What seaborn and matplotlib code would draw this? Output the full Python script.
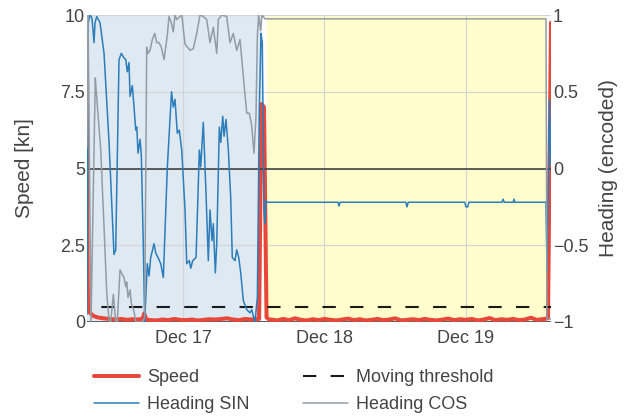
import numpy as np
import pandas as pd
import matplotlib
matplotlib.use("Agg")
import matplotlib.pyplot as plt
import matplotlib.dates as mdates
from matplotlib.lines import Line2D
import seaborn as sns

# ---------------- data (hours since 2023-12-16 00:00) ----------------
BASE = "2023-12-16"

speed_hours = [7.71, 7.76, 7.88, 8.2, 8.8, 9.5, 10.5, 11.5, 12.5, 13.5, 14.5, 15.5, 16.5,
               17.2, 17.4, 17.8, 18.5, 19.5, 20.5, 21.5, 22.5, 23.5, 24.5, 25.5, 26.5,
               27.5, 28.5, 29.5, 30.5, 31.5, 32.5, 33.5, 34.5, 35.5, 36.3, 36.89,
               37.32, 37.74, 38.17, 38.6,
               39, 40, 41, 42, 43, 44, 45, 46, 47, 48, 49, 50, 51, 52, 53, 54, 55, 56,
               57, 58, 59, 60, 61, 62, 63, 64, 65, 66, 67, 68, 69, 70, 71, 72, 73, 74,
               75, 76, 77, 78, 79, 80, 81, 82, 83, 84, 85, 85.92, 86.43]
speed_kn = [8.6, 3.2, 0.45, 0.3, 0.2, 0.15, 0.12, 0.1, 0.08, 0.1, 0.07, 0.09, 0.08,
            0.12, 0.28, 0.08, 0.06, 0.05, 0.08, 0.06, 0.1, 0.07, 0.06, 0.08, 0.05,
            0.07, 0.09, 0.08, 0.1, 0.12, 0.08, 0.06, 0.1, 0.08, 0.1, 0.1,
            7.1, 7.0, 0.15, 0.08,
            0.08, 0.05, 0.1, 0.06, 0.12, 0.07, 0.05, 0.09, 0.06, 0.1, 0.07, 0.05, 0.08,
            0.11, 0.06, 0.09, 0.05, 0.07, 0.1, 0.06, 0.08, 0.12, 0.05, 0.07, 0.09,
            0.06, 0.1, 0.07, 0.05, 0.08, 0.11, 0.06, 0.09, 0.07, 0.1, 0.05, 0.08,
            0.13, 0.06, 0.09, 0.07, 0.1, 0.06, 0.08, 0.14, 0.07, 0.09, 0.12, 9.75]

sin_hours = [7.71, 7.93, 8.22, 8.56, 8.90, 9.07, 9.36, 9.92, 10.60, 11.45, 12.29, 12.58,
             13.14, 13.53, 13.99, 14.28, 14.55, 14.84, 15.01, 15.40, 15.69, 15.98, 16.15,
             16.37, 16.71, 16.93, 17.26, 17.50, 17.94, 18.23, 18.52, 19.08, 19.37, 19.76,
             20.22, 20.66, 21.34, 22.05, 22.35, 22.64, 23.03, 23.37, 23.78, 24.34, 24.63,
             25.07, 25.31, 25.65, 26.21, 26.77, 27.00, 27.44, 27.90, 28.29, 28.58, 28.92,
             29.14, 29.48, 29.72, 30.16, 30.40, 30.74, 30.96, 31.29, 31.69, 32.09, 32.36,
             32.82, 33.11, 33.45, 33.79, 34.23, 34.81, 35.37, 35.65, 36.21, 36.61, 36.94,
             37.23, 37.45, 37.74, 37.91, 38.08, 38.25,
             50.3, 50.47, 50.65, 61.8, 62.0, 62.2, 71.8, 72.0, 72.3, 72.5,
             78.1, 78.29, 78.5, 80.0, 80.15, 80.3, 85.58, 85.75, 86.18, 86.43]
sin_vals = [-0.95, 0.95, 1.0, 0.98, 0.82, 0.95, 0.99, 0.95, 0.75, 0.17, -0.56, -0.53,
            0.71, 0.75, 0.72, 0.71, 0.63, 0.69, 0.47, 0.54, 0.40, 0.25, 0.27,
            0.10, 0.19, 0.08, -0.49, -1.0, -0.62, -0.70, -0.58, -0.49, -0.55, -0.58,
            -0.62, -0.71, 0.01, 0.50, 0.40, 0.45, 0.23, 0.25, 0.12, -0.27, -0.62,
            -0.60, -0.65, -0.60, -0.58, 0.12, 0.01, 0.30, -0.16, -0.60, -0.27, -0.47,
            -0.36, -0.68, -0.49, 0.27, 0.17, 0.34, 0.21, 0.32, 0.12, -0.19, -0.58,
            -0.60, -0.53, -0.58, -0.68, -0.86, -0.92, -0.94, -0.92, -1.0, -0.84, 0.38,
            0.88, 0.82, -0.27, -0.36, -0.21, -0.22,
            -0.22, -0.245, -0.22, -0.22, -0.25, -0.22, -0.22, -0.25, -0.25, -0.22,
            -0.22, -0.20, -0.22, -0.22, -0.20, -0.22, -0.22, -0.67, 0.45, 0.02]

cos_hours = [7.71, 7.88, 8.39, 9.12, 9.19, 10.04, 10.60, 11.06, 11.45, 11.73, 12.18,
             12.58, 12.85, 13.31, 13.70, 13.99, 14.28, 14.45, 14.67, 15.01, 15.23, 15.69,
             15.98, 16.54, 17.10, 17.50, 17.84, 18.06, 18.40, 18.79, 19.20, 19.54, 19.93,
             20.32, 20.78, 21.34, 21.62, 22.02, 22.35, 22.64, 22.93, 23.49, 23.78, 24.34,
             25.19, 25.75, 26.32, 26.88, 27.44, 28.02, 28.58, 29.14, 29.72, 29.99, 30.57,
             31.41, 31.97, 32.53, 33.11, 33.67, 34.23, 34.81, 35.25, 35.65, 36.04, 36.38,
             36.61, 36.84, 37.18, 37.40, 37.91, 85.58, 85.75, 86.43]
cos_vals = [0.14, 1.0, -1.0, 0.59, 0.55, 0.12, -0.38, -0.81, -0.99, -1.0, -0.82,
            -1.0, -1.0, -0.66, -0.69, -0.71, -0.77, -0.74, -0.84, -0.79, -0.88, -0.93,
            -1.0, -1.0, -1.0, -0.97, 0.79, 0.75, 0.77, 0.84, 0.88, 0.82, 0.82,
            0.79, 0.71, 0.87, 0.99, 0.95, 0.89, 1.0, 0.97, 0.99, 1.0, 0.81,
            0.77, 0.78, 0.88, 1.0, 0.99, 0.97, 0.82, 0.92, 0.75, 0.97, 1.0,
            0.99, 0.82, 0.88, 0.77, 0.84, 0.6, 0.36, 0.36, 0.28, 0.10, 0.34,
            0.86, 1.0, 0.9, 1.0, 0.975, 0.975, -0.98, -0.98]

threshold_kn = 0.5
stop_start_hours = [7.71, 38.25]
stop_end_hours = [37.40, 85.58]
stop_colors = ["#dfe9f2", "#fffdcc"]
date_ticks = ["2023-12-17", "2023-12-18", "2023-12-19"]
speed_ticks = [0, 2.5, 5, 7.5, 10]
speed_ticklabels = ["0", "2.5", "5", "7.5", "10"]
heading_ticks = [-1, -0.5, 0, 0.5, 1]
heading_ticklabels = ["\u22121", "\u22120.5", "0", "0.5", "1"]

# ---------------- helpers ----------------
base = pd.Timestamp(BASE)
def to_time(hours):
    return base + pd.to_timedelta(np.asarray(hours, dtype=float), unit="h")

df_speed = pd.DataFrame({"time": to_time(speed_hours), "speed": speed_kn})
df_sin = pd.DataFrame({"time": to_time(sin_hours), "val": sin_vals})
df_cos = pd.DataFrame({"time": to_time(cos_hours), "val": cos_vals})

RED = "#e8473a"
BLUE = "#2b7dbb"
GRAY = "#939ca5"
TXT = "#444444"

sns.set_theme(style="white")
plt.rcParams["font.family"] = ["Liberation Sans", "DejaVu Sans"]

fig = plt.figure(figsize=(6.31, 4.17), dpi=100)
ax = fig.add_axes([87 / 631, 1 - 322 / 417, 464 / 631, 307 / 417])
ax2 = ax.twinx()
ax2.patch.set_visible(False)

t0, t1 = df_speed["time"].min(), df_speed["time"].max()

# shaded stop periods
for s, e, c in zip(to_time(stop_start_hours), to_time(stop_end_hours), stop_colors):
    ax.axvspan(s, e, color=c, zorder=0.1, lw=0)

# grid
ax.set_axisbelow(True)
ax.grid(True, color="#d4d4d4", lw=0.8)
ax.axhline(0, color=TXT, lw=1.2, zorder=0.6)

# speed + threshold
sns.lineplot(data=df_speed, x="time", y="speed", ax=ax, color=RED, lw=2.9,
             estimator=None, sort=False, legend=False, zorder=3)
ax.plot([t0, t1], [threshold_kn, threshold_kn], color="#1a1a1a", lw=1.5,
        linestyle=(6.4, (6.4, 6.87)), zorder=3)

# heading
ax2.axhline(0, color=TXT, lw=1.2, zorder=1)
sns.lineplot(data=df_sin, x="time", y="val", ax=ax2, color=BLUE, lw=1.1,
             estimator=None, sort=False, legend=False)
sns.lineplot(data=df_cos, x="time", y="val", ax=ax2, color=GRAY, lw=1.1,
             estimator=None, sort=False, legend=False)

ax.set_xlim(t0, t1)
ax.set_ylim(0, 10)
ax2.set_ylim(-1, 1)
ax2.grid(False)

ax.set_xticks(pd.to_datetime(date_ticks))
ax.xaxis.set_major_formatter(mdates.DateFormatter("%b %-d"))
ax.set_yticks(speed_ticks)
ax.set_yticklabels(speed_ticklabels)
ax2.set_yticks(heading_ticks)
ax2.set_yticklabels(heading_ticklabels)

for a in (ax, ax2):
    for sp in a.spines.values():
        sp.set_visible(False)
ax.tick_params(axis="x", length=0, pad=6, labelsize=13, labelcolor=TXT)
ax.tick_params(axis="y", length=0, pad=1.5, labelsize=13, labelcolor=TXT)
ax2.tick_params(axis="y", length=0, pad=1.5, labelsize=13, labelcolor=TXT)

ax.set_xlabel("")
ax.set_ylabel("Speed [kn]", fontsize=15, color=TXT)
ax.yaxis.set_label_coords(-0.114, 0.5)
ax2.set_ylabel("Heading (encoded)", fontsize=15, color=TXT)
ax2.yaxis.set_label_coords(1.103, 0.5)

handles = [
    Line2D([], [], color=RED, lw=2.9),
    Line2D([], [], color=BLUE, lw=1.1),
    Line2D([], [], color="#1a1a1a", lw=1.5, linestyle=(0, (6.4, 6.87))),
    Line2D([], [], color=GRAY, lw=1.1),
]
labels = ["Speed", "Heading SIN", "Moving threshold", "Heading COS"]
leg = fig.legend(handles, labels, ncol=2, loc="upper left",
                 bbox_to_anchor=(94 / 631, 1 - 369 / 417), frameon=False,
                 fontsize=13, handlelength=2.5, handletextpad=0.45,
                 columnspacing=2.95, labelspacing=0.58, borderpad=0, borderaxespad=0)
for t in leg.get_texts():
    t.set_color(TXT)

fig.savefig("out.png", dpi=100)
